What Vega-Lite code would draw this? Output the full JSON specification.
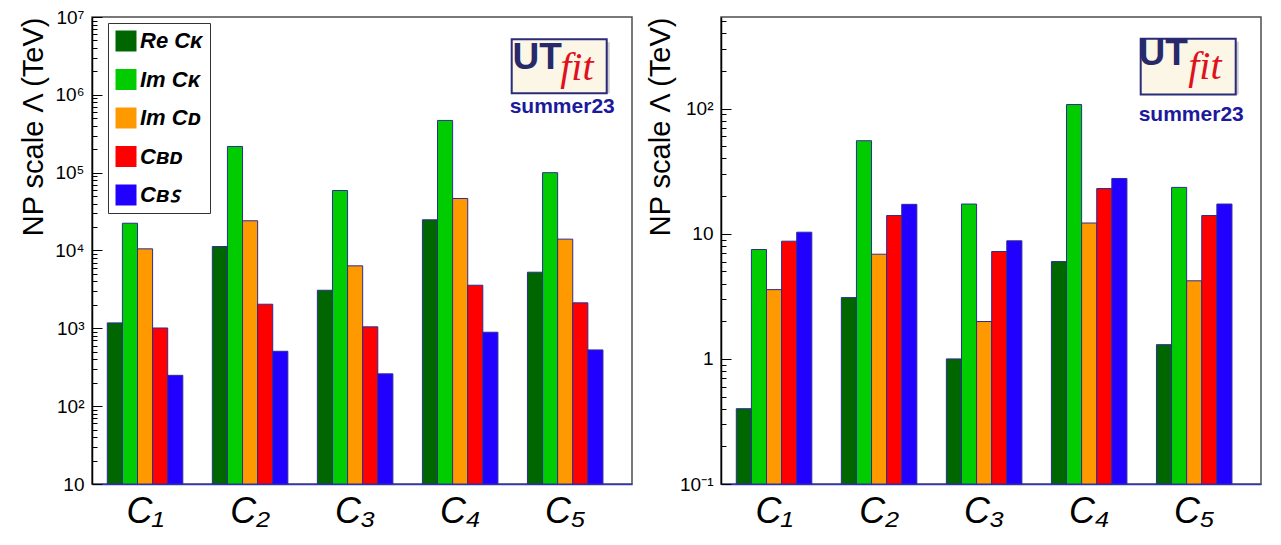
{
  "$schema": "https://vega.github.io/schema/vega-lite/v6.json",
  "background": "white",
  "padding": {"left": 18, "top": 7, "right": 5, "bottom": 2},
  "spacing": 12,
  "datasets": {
    "kaon_d_b_left": [
      {"op": "C₁", "series": "ReCK", "v": 1175},
      {"op": "C₁", "series": "ImCK", "v": 22400},
      {"op": "C₁", "series": "ImCD", "v": 10500},
      {"op": "C₁", "series": "CBd", "v": 1010},
      {"op": "C₁", "series": "CBs", "v": 249},
      {"op": "C₂", "series": "ReCK", "v": 11250},
      {"op": "C₂", "series": "ImCK", "v": 217000},
      {"op": "C₂", "series": "ImCD", "v": 24100},
      {"op": "C₂", "series": "CBd", "v": 2040},
      {"op": "C₂", "series": "CBs", "v": 507},
      {"op": "C₃", "series": "ReCK", "v": 3085},
      {"op": "C₃", "series": "ImCK", "v": 59000},
      {"op": "C₃", "series": "ImCD", "v": 6350},
      {"op": "C₃", "series": "CBd", "v": 1045},
      {"op": "C₃", "series": "CBs", "v": 260},
      {"op": "C₄", "series": "ReCK", "v": 24800},
      {"op": "C₄", "series": "ImCK", "v": 469000},
      {"op": "C₄", "series": "ImCD", "v": 46600},
      {"op": "C₄", "series": "CBd", "v": 3580},
      {"op": "C₄", "series": "CBs", "v": 891},
      {"op": "C₅", "series": "ReCK", "v": 5260},
      {"op": "C₅", "series": "ImCK", "v": 100000},
      {"op": "C₅", "series": "ImCD", "v": 14000},
      {"op": "C₅", "series": "CBd", "v": 2125},
      {"op": "C₅", "series": "CBs", "v": 528}
    ],
    "kaon_d_b_right": [
      {"op": "C₁", "series": "ReCK", "v": 0.40},
      {"op": "C₁", "series": "ImCK", "v": 7.49},
      {"op": "C₁", "series": "ImCD", "v": 3.58},
      {"op": "C₁", "series": "CBd", "v": 8.73},
      {"op": "C₁", "series": "CBs", "v": 10.3},
      {"op": "C₂", "series": "ReCK", "v": 3.09},
      {"op": "C₂", "series": "ImCK", "v": 55.5},
      {"op": "C₂", "series": "ImCD", "v": 6.87},
      {"op": "C₂", "series": "CBd", "v": 14.0},
      {"op": "C₂", "series": "CBs", "v": 17.2},
      {"op": "C₃", "series": "ReCK", "v": 1.0},
      {"op": "C₃", "series": "ImCK", "v": 17.3},
      {"op": "C₃", "series": "ImCD", "v": 1.99},
      {"op": "C₃", "series": "CBd", "v": 7.22},
      {"op": "C₃", "series": "CBs", "v": 8.79},
      {"op": "C₄", "series": "ReCK", "v": 6.0},
      {"op": "C₄", "series": "ImCK", "v": 108},
      {"op": "C₄", "series": "ImCD", "v": 12.2},
      {"op": "C₄", "series": "CBd", "v": 23.0},
      {"op": "C₄", "series": "CBs", "v": 27.7},
      {"op": "C₅", "series": "ReCK", "v": 1.30},
      {"op": "C₅", "series": "ImCK", "v": 23.5},
      {"op": "C₅", "series": "ImCD", "v": 4.21},
      {"op": "C₅", "series": "CBd", "v": 14.0},
      {"op": "C₅", "series": "CBs", "v": 17.3}
    ]
  },
  "config": {
    "view": {"stroke": "#4d4d4d", "strokeWidth": 1.5},
    "font": "Liberation Sans",
    "axis": {"grid": false, "labelColor": "black", "titleColor": "black", "labelFont": "Liberation Sans", "titleFont": "Liberation Sans"}
  },
  "hconcat": [
    {
      "width": 540,
      "height": 467,
      "layer": [
        {
          "data": {"name": "kaon_d_b_left"},
          "mark": {"type": "bar", "stroke": "#2c2c96", "strokeWidth": 1},
          "encoding": {
            "x": {
              "field": "op", "type": "nominal", "sort": null,
              "scale": {"paddingInner": 0.281, "paddingOuter": 0.211, "align": 0.345},
              "axis": {"title": null, "ticks": false, "domainColor": "#3535bb", "domainWidth": 1.5, "labelAngle": 0, "labelFontSize": 36, "labelFontStyle": "italic", "labelPadding": 10}
            },
            "xOffset": {
              "field": "series", "type": "nominal",
              "sort": ["ReCK", "ImCK", "ImCD", "CBd", "CBs"],
              "scale": {"paddingInner": 0, "paddingOuter": 0}
            },
            "y": {
              "field": "v", "type": "quantitative", "stack": null,
              "scale": {"type": "log", "domain": [10, 10000000], "nice": false, "clamp": true},
              "axis": {
                "title": "NP scale Λ (TeV)", "titleFontSize": 29, "titleFontWeight": "normal", "titleAnchor": "end", "titlePadding": 6,
                "minExtent": 38, "maxExtent": 38,
                "values": [10,20,30,40,50,60,70,80,90,100,200,300,400,500,600,700,800,900,1000,2000,3000,4000,5000,6000,7000,8000,9000,10000,20000,30000,40000,50000,60000,70000,80000,90000,100000,200000,300000,400000,500000,600000,700000,800000,900000,1000000,2000000,3000000,4000000,5000000,6000000,7000000,8000000,9000000,10000000],
                "labelExpr": "abs(log(datum.value)/LN10 - round(log(datum.value)/LN10)) > 1e-6 ? '' : round(log(datum.value)/LN10) == 0 ? '1' : round(log(datum.value)/LN10) == 1 ? '10' : round(log(datum.value)/LN10) == -1 ? '10⁻¹' : '10' + ['⁰','¹','²','³','⁴','⁵','⁶','⁷','⁸','⁹'][round(log(datum.value)/LN10)]",
                "labelFontSize": 19, "labelPadding": 18, "labelOverlap": false, "labelFlush": false, "labelBound": false,
                "tickSize": {"condition": {"test": "abs(log(datum.value)/LN10 - round(log(datum.value)/LN10)) < 1e-6", "value": -10}, "value": -5},
                "tickColor": "black", "domainColor": "black", "domainWidth": 1.5
              }
            },
            "color": {
              "field": "series", "type": "nominal",
              "scale": {"domain": ["ReCK", "ImCK", "ImCD", "CBd", "CBs"], "range": ["#006600", "#00cc00", "#ff9900", "#ff0000", "#2200ff"]},
              "legend": {
                "title": null, "orient": "none", "legendX": 16, "legendY": 6,
                "symbolType": "square", "symbolSize": 441, "symbolStrokeWidth": 0, "symbolOpacity": 1,
                "labelFont": "Liberation Sans", "labelFontSize": 22, "labelFontWeight": "bold", "labelFontStyle": "italic", "labelColor": "black",
                "labelOffset": 3, "rowPadding": 16.5, "padding": 7, "labelLimit": 200,
                "strokeColor": "#333333", "fillColor": "white",
                "labelExpr": "datum.value == 'ReCK' ? 'Re Cᴋ' : datum.value == 'ImCK' ? 'Im Cᴋ' : datum.value == 'ImCD' ? 'Im Cᴅ' : datum.value == 'CBd' ? 'Cʙᴅ' : 'Cʙꜱ'"
              }
            }
          }
        },
        {
          "data": {"values": [{}]},
          "mark": {"type": "bar", "width": 95, "xOffset": -3, "yOffset": 3, "fill": "#9a9a9a", "opacity": 0.5},
          "encoding": {"x": {"datum": "C₅"}, "y": {"datum": 5160000}, "y2": {"datum": 1050000}}
        },
        {
          "data": {"values": [{}]},
          "mark": {"type": "bar", "width": 95, "xOffset": -6, "fill": "#fbf6e6", "stroke": "#2b2b7a", "strokeWidth": 2},
          "encoding": {"x": {"datum": "C₅"}, "y": {"datum": 5160000}, "y2": {"datum": 1050000}}
        },
        {
          "data": {"values": [{}]},
          "mark": {"type": "text", "text": "UT", "font": "Liberation Sans", "fontWeight": "bold", "fontSize": 37, "color": "#27296b", "align": "center", "baseline": "alphabetic", "dx": -28},
          "encoding": {"x": {"datum": "C₅"}, "y": {"datum": 2170000}}
        },
        {
          "data": {"values": [{}]},
          "mark": {"type": "text", "text": "fit", "font": "Liberation Serif", "fontStyle": "italic", "fontSize": 40, "color": "#e0101c", "align": "left", "baseline": "alphabetic", "dx": -5},
          "encoding": {"x": {"datum": "C₅"}, "y": {"datum": 1530000}}
        },
        {
          "data": {"values": [{}]},
          "mark": {"type": "text", "text": "summer23", "font": "Liberation Sans", "fontWeight": "bold", "fontSize": 21, "color": "#1c1a9c", "align": "center", "baseline": "alphabetic", "dx": -3},
          "encoding": {"x": {"datum": "C₅"}, "y": {"datum": 582000}}
        }
      ]
    },
    {
      "width": 540,
      "height": 467,
      "layer": [
        {
          "data": {"name": "kaon_d_b_right"},
          "mark": {"type": "bar", "stroke": "#2c2c96", "strokeWidth": 1},
          "encoding": {
            "x": {
              "field": "op", "type": "nominal", "sort": null,
              "scale": {"paddingInner": 0.281, "paddingOuter": 0.211, "align": 0.345},
              "axis": {"title": null, "ticks": false, "domainColor": "#3535bb", "domainWidth": 1.5, "labelAngle": 0, "labelFontSize": 36, "labelFontStyle": "italic", "labelPadding": 10}
            },
            "xOffset": {
              "field": "series", "type": "nominal",
              "sort": ["ReCK", "ImCK", "ImCD", "CBd", "CBs"],
              "scale": {"paddingInner": 0, "paddingOuter": 0}
            },
            "y": {
              "field": "v", "type": "quantitative", "stack": null,
              "scale": {"type": "log", "domain": [0.1, 541], "nice": false, "clamp": true},
              "axis": {
                "title": "NP scale Λ (TeV)", "titleFontSize": 29, "titleFontWeight": "normal", "titleAnchor": "end", "titlePadding": 6,
                "minExtent": 40, "maxExtent": 40,
                "values": [0.1,0.2,0.3,0.4,0.5,0.6,0.7,0.8,0.9,1,2,3,4,5,6,7,8,9,10,20,30,40,50,60,70,80,90,100,200,300,400,500],
                "labelExpr": "abs(log(datum.value)/LN10 - round(log(datum.value)/LN10)) > 1e-6 ? '' : round(log(datum.value)/LN10) == 0 ? '1' : round(log(datum.value)/LN10) == 1 ? '10' : round(log(datum.value)/LN10) == -1 ? '10⁻¹' : '10' + ['⁰','¹','²','³','⁴','⁵','⁶','⁷','⁸','⁹'][round(log(datum.value)/LN10)]",
                "labelFontSize": 19, "labelPadding": 18, "labelOverlap": false, "labelFlush": false, "labelBound": false,
                "tickSize": {"condition": {"test": "abs(log(datum.value)/LN10 - round(log(datum.value)/LN10)) < 1e-6", "value": -10}, "value": -5},
                "tickColor": "black", "domainColor": "black", "domainWidth": 1.5
              }
            },
            "color": {
              "field": "series", "type": "nominal",
              "scale": {"domain": ["ReCK", "ImCK", "ImCD", "CBd", "CBs"], "range": ["#006600", "#00cc00", "#ff9900", "#ff0000", "#2200ff"]},
              "legend": {
                "title": null, "orient": "none", "legendX": 16, "legendY": 13,
                "symbolType": "square", "symbolSize": 441, "symbolStrokeWidth": 0, "symbolOpacity": 1,
                "labelFont": "Liberation Sans", "labelFontSize": 22, "labelFontWeight": "bold", "labelFontStyle": "italic", "labelColor": "black",
                "labelOffset": 3, "rowPadding": 16.5, "padding": 7, "labelLimit": 200,
                "strokeColor": "#333333", "fillColor": "white",
                "labelExpr": "datum.value == 'ReCK' ? 'Re Cᴋ' : datum.value == 'ImCK' ? 'Im Cᴋ' : datum.value == 'ImCD' ? 'Im Cᴅ' : datum.value == 'CBd' ? 'Cʙᴅ' : 'Cʙꜱ'"
              }
            }
          }
        },
        {
          "data": {"values": [{}]},
          "mark": {"type": "bar", "width": 95, "xOffset": -3, "yOffset": 3, "fill": "#9a9a9a", "opacity": 0.5},
          "encoding": {"x": {"datum": "C₅"}, "y": {"datum": 363}, "y2": {"datum": 130}}
        },
        {
          "data": {"values": [{}]},
          "mark": {"type": "bar", "width": 95, "xOffset": -6, "fill": "#fbf6e6", "stroke": "#2b2b7a", "strokeWidth": 2},
          "encoding": {"x": {"datum": "C₅"}, "y": {"datum": 363}, "y2": {"datum": 130}}
        },
        {
          "data": {"values": [{}]},
          "mark": {"type": "text", "text": "UT", "font": "Liberation Sans", "fontWeight": "bold", "fontSize": 37, "color": "#27296b", "align": "center", "baseline": "alphabetic", "dx": -31},
          "encoding": {"x": {"datum": "C₅"}, "y": {"datum": 222}}
        },
        {
          "data": {"values": [{}]},
          "mark": {"type": "text", "text": "fit", "font": "Liberation Serif", "fontStyle": "italic", "fontSize": 40, "color": "#e0101c", "align": "left", "baseline": "alphabetic", "dx": -6},
          "encoding": {"x": {"datum": "C₅"}, "y": {"datum": 174}}
        },
        {
          "data": {"values": [{}]},
          "mark": {"type": "text", "text": "summer23", "font": "Liberation Sans", "fontWeight": "bold", "fontSize": 21, "color": "#1c1a9c", "align": "center", "baseline": "alphabetic", "dx": -3},
          "encoding": {"x": {"datum": "C₅"}, "y": {"datum": 80.2}}
        }
      ]
    }
  ]
}
